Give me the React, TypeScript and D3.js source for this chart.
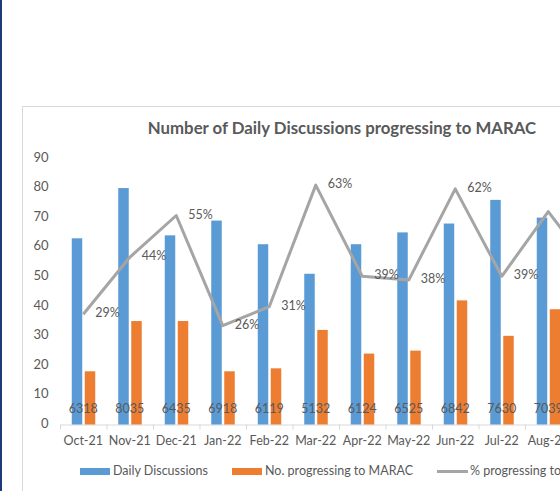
import React, { useRef, useEffect } from 'react';
import * as d3 from 'd3';

const months = ['Oct-21', 'Nov-21', 'Dec-21', 'Jan-22', 'Feb-22', 'Mar-22', 'Apr-22', 'May-22', 'Jun-22', 'Jul-22', 'Aug-22', 'Sep-22'];
const dailyDiscussions = [63, 80, 64, 69, 61, 51, 61, 65, 68, 76, 70, null];
const progressingToMarac = [18, 35, 35, 18, 19, 32, 24, 25, 42, 30, 39, null];
const pctProgressing = [29, 44, 55, 26, 31, 63, 39, 38, 62, 39, 56, 40];
const totals = ['6318', '8035', '6435', '6918', '6119', '5132', '6124', '6525', '6842', '7630', '7039', ''];
const yTicks = [0, 10, 20, 30, 40, 50, 60, 70, 80, 90];

const W = 560;
const H = 491;
const FONT = 'Lato, "Open Sans", sans-serif';
const TEXT = '#595959';
const BLUE = '#5B9BD5';
const ORANGE = '#ED7D31';
const GREY = '#A5A5A5';

export default function App() {
  const ref = useRef<SVGSVGElement>(null);

  useEffect(() => {
    const svg = d3.select(ref.current);
    svg.selectAll('*').remove();

    svg.append('rect').attr('width', W).attr('height', H).attr('fill', '#fff');
    // window edge
    svg.append('rect').attr('x', 0).attr('y', 0).attr('width', 2).attr('height', H).attr('fill', '#1F3A78');

    // chart area border (continues past the crop)
    svg.append('rect')
      .attr('x', 22.5).attr('y', 106.5).attr('width', 641).attr('height', 420)
      .attr('fill', '#fff').attr('stroke', '#D9D9D9');

    svg.append('text')
      .attr('x', 342).attr('y', 130)
      .attr('text-anchor', 'middle').attr('dominant-baseline', 'middle')
      .attr('font-family', FONT).attr('font-weight', 'bold').attr('font-size', 16.8)
      .attr('fill', TEXT)
      .text('Number of Daily Discussions progressing to MARAC');

    const x = d3.scaleBand().domain(months).range([60, 60 + 46.5 * months.length]);
    const y = d3.scaleLinear().domain([0, 90]).range([424.5, 158.5]);
    const y2 = d3.scaleLinear().domain([0, 70]).range([424.5, 158.5]);
    const cx = (m: string) => (x(m) as number) + x.bandwidth() / 2;
    const barW = 10.5;

    // y axis labels
    svg.append('g').selectAll('text').data(yTicks).enter().append('text')
      .attr('x', 48.5).attr('y', d => y(d))
      .attr('text-anchor', 'end').attr('dominant-baseline', 'middle')
      .attr('font-family', FONT).attr('font-size', 13).attr('fill', TEXT)
      .text(d => d);

    // x axis
    const xAxis = svg.append('g').attr('transform', `translate(0,${y(0)})`)
      .call(d3.axisBottom(x).tickSize(0).tickFormat(() => ''));
    xAxis.select('.domain').attr('stroke', '#D9D9D9');
    xAxis.selectAll('.tick').remove();
    svg.append('g').selectAll('line').data(d3.range(months.length + 1)).enter().append('line')
      .attr('x1', i => 60.5 + i * x.bandwidth()).attr('x2', i => 60.5 + i * x.bandwidth())
      .attr('y1', y(0)).attr('y2', y(0) + 5)
      .attr('stroke', '#D9D9D9');

    svg.append('g').selectAll('text').data(months).enter().append('text')
      .attr('x', d => cx(d)).attr('y', 442)
      .attr('text-anchor', 'middle').attr('dominant-baseline', 'middle')
      .attr('font-family', FONT).attr('font-size', 12.5).attr('fill', TEXT)
      .text(d => d);

    // bars
    svg.append('g').selectAll('rect').data(months.filter((_, i) => dailyDiscussions[i] != null)).enter().append('rect')
      .attr('x', d => cx(d) - 11.5)
      .attr('width', barW)
      .attr('y', d => y(dailyDiscussions[months.indexOf(d)] as number))
      .attr('height', d => y(0) - y(dailyDiscussions[months.indexOf(d)] as number))
      .attr('fill', BLUE);

    svg.append('g').selectAll('rect').data(months.filter((_, i) => progressingToMarac[i] != null)).enter().append('rect')
      .attr('x', d => cx(d) + 1.5)
      .attr('width', barW)
      .attr('y', d => y(progressingToMarac[months.indexOf(d)] as number))
      .attr('height', d => y(0) - y(progressingToMarac[months.indexOf(d)] as number))
      .attr('fill', ORANGE);

    // totals labels
    svg.append('g').selectAll('text').data(months).enter().append('text')
      .attr('x', d => cx(d)).attr('y', 409.5)
      .attr('text-anchor', 'middle').attr('dominant-baseline', 'middle')
      .attr('font-family', FONT).attr('font-size', 12.5).attr('fill', TEXT)
      .text((_, i) => totals[i]);

    // percentage line
    const line = d3.line<number>()
      .x((_, i) => cx(months[i]))
      .y(d => y2(d));
    svg.append('path')
      .attr('d', line(pctProgressing))
      .attr('fill', 'none').attr('stroke', GREY).attr('stroke-width', 3)
      .attr('stroke-linejoin', 'round');

    svg.append('g').selectAll('text').data(pctProgressing).enter().append('text')
      .attr('x', (_, i) => cx(months[i]) + 12).attr('y', d => y2(d))
      .attr('dominant-baseline', 'middle')
      .attr('font-family', FONT).attr('font-size', 12.5).attr('fill', TEXT)
      .text(d => `${d}%`);

    // legend
    const lg = svg.append('g').attr('font-family', FONT).attr('font-size', 12.5).attr('fill', TEXT);
    lg.append('rect').attr('x', 80).attr('y', 468).attr('width', 30).attr('height', 7).attr('fill', BLUE);
    lg.append('text').attr('x', 113).attr('y', 471.5).attr('dominant-baseline', 'middle').text('Daily Discussions');
    lg.append('rect').attr('x', 232).attr('y', 468).attr('width', 30).attr('height', 7).attr('fill', ORANGE);
    lg.append('text').attr('x', 265).attr('y', 471.5).attr('dominant-baseline', 'middle').text('No. progressing to MARAC');
    lg.append('line').attr('x1', 437).attr('x2', 468).attr('y1', 471.5).attr('y2', 471.5)
      .attr('stroke', GREY).attr('stroke-width', 3);
    lg.append('text').attr('x', 470).attr('y', 471.5).attr('dominant-baseline', 'middle').text('% progressing to MARAC');
  }, []);

  return (
    <svg ref={ref} width={W} height={H}
      style={{ position: 'absolute', left: 0, top: 0, display: 'block' }} />
  );
}
